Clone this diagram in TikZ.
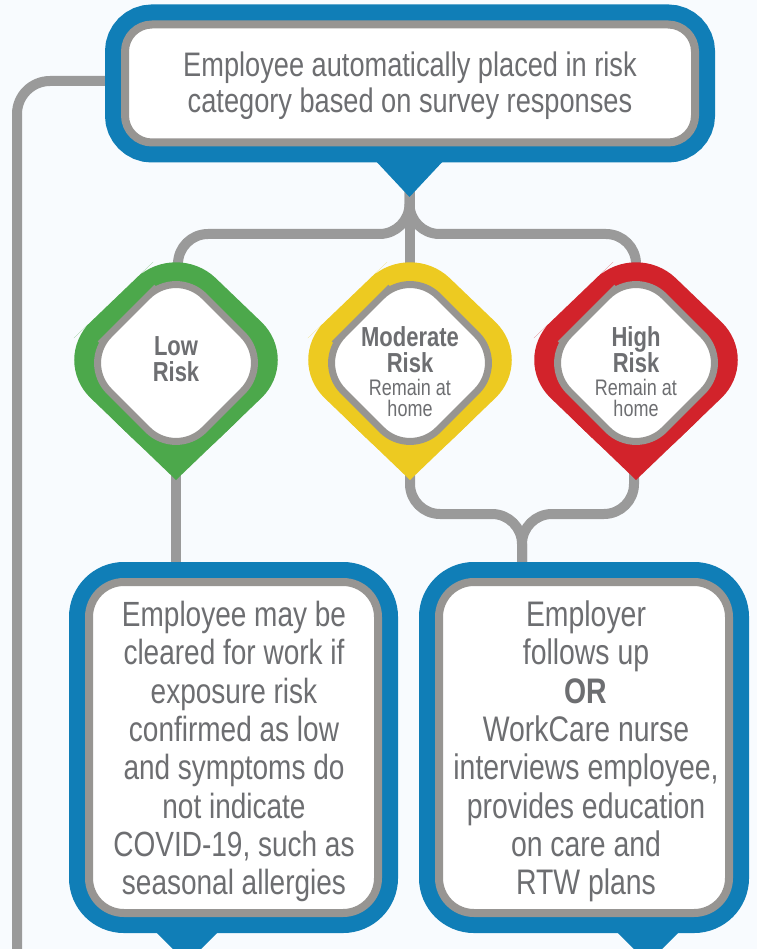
\documentclass[tikz,border=0pt]{standalone}
\usepackage{fontspec}
\setmainfont{Liberation Sans}[FakeStretch=0.8]
\definecolor{tblue}{HTML}{107EB7}
\definecolor{bgray}{HTML}{979592}
\definecolor{lgray}{HTML}{9A9A9A}
\definecolor{tgray}{HTML}{6D6E71}
\definecolor{rgreen}{HTML}{4CA84B}
\definecolor{ryellow}{HTML}{EDCA21}
\definecolor{rred}{HTML}{D2232B}
\definecolor{bgc}{HTML}{F8FBFE}
\pgfdeclarelayer{bg}
\pgfdeclarelayer{lines}
\pgfsetlayers{bg,lines,main}
\newcommand{\riskshape}[2]{%
  \fill[#2, rounded corners=55pt] (#1-62.5,300) -- (#1,240) -- (#1+125,360) -- (#1,480) -- (#1-125,360) -- cycle;
  \fill[#2] (#1-62.5,420) -- (#1,480) -- (#1+62.5,420) -- (#1,360) -- cycle;
  \filldraw[fill=white, draw=bgray, line width=7pt, rounded corners=40pt] (#1-47.5,315.5) -- (#1,268) -- (#1+95,363) -- (#1,458) -- (#1-95,363) -- cycle;
}
\begin{document}
\begin{tikzpicture}[x=1pt,y=-1pt,
  conn/.style={draw=lgray, line width=10pt, rounded corners=30pt},
  box/.style={draw=bgray, line width=8pt, fill=white, rounded corners=#1,
    preaction={draw=tblue, line width=40pt}, inner sep=0pt},
  btext/.style={text=tgray, align=center, inner sep=0pt},
  dtitle/.style={font=\bfseries\fontsize{27.5}{26}\selectfont, text=tgray, align=center, inner sep=0pt},
  dsub/.style={font=\fontsize{22.5}{21}\selectfont, text=tgray, align=center, inner sep=0pt},
]
\begin{pgfonlayer}{bg}
\fill[bgc] (0,0) rectangle (757,949);
\end{pgfonlayer}
\useasboundingbox (0,0) rectangle (757,949);

% pointers
\fill[tblue] (373,158) -- (446,158) -- (409.5,197) -- cycle;
\fill[tblue] (152,928) -- (222,928) -- (187,963) -- cycle;
\fill[tblue] (613,928) -- (683,928) -- (648,963) -- cycle;

% boxes
\node[box=27pt, minimum width=570pt, minimum height=118pt] (top) at (410,83.5) {};
\node[box=35pt, minimum width=289pt, minimum height=331pt] (lbox) at (233.5,747.5) {};
\node[box=35pt, minimum width=290pt, minimum height=331pt] (rbox) at (584,747.5) {};

\node[btext, font=\fontsize{34}{36}\selectfont] (top-t) at (410,85.5)
  {Employee automatically placed in risk\\category based on survey responses};
\node[btext, font=\fontsize{35}{38.3}\selectfont] (lbox-t) at (234,751.5)
  {Employee may be\\cleared for work if\\exposure risk\\confirmed as low\\and symptoms do\\not indicate\\COVID-19, such as\\seasonal allergies};
\node[btext, font=\fontsize{35.5}{38.3}\selectfont] (rbox-t) at (586,751.5)
  {Employer\\follows up\\\textbf{OR}\\WorkCare nurse\\interviews employee,\\provides education\\on care and\\RTW plans};

% diamonds
\riskshape{176}{rgreen}
\riskshape{410}{ryellow}
\riskshape{636}{rred}
\node[dtitle] (low-t) at (176,359.5) {Low\\Risk};
\node[dtitle] (mod-t) at (410,350) {Moderate\\Risk};
\node[dsub] (mod-s) at (410,397.5) {Remain at\\home};
\node[dtitle] (high-t) at (636,350) {High\\Risk};
\node[dsub] (high-s) at (636,397.5) {Remain at\\home};

% connection points
\coordinate (toptip) at (409.5,188);
\coordinate (split) at (409.5,234);
\coordinate (low-top) at (178,275);
\coordinate (mod-top) at (409.5,275);
\coordinate (high-top) at (636,275);
\coordinate (low-tip) at (176,470);
\coordinate (mod-tip) at (410,470);
\coordinate (high-tip) at (634,470);
\coordinate (merge) at (522,514);
\coordinate (loopend) at (17,965);

\begin{pgfonlayer}{lines}
\draw[conn, rounded corners=33pt] ([yshift=2.5pt]top.west) -| (loopend);
\draw[conn] (toptip) -- (mod-top);
\draw[conn] (toptip) -- (split) -| (low-top);
\draw[conn] (toptip) -- (split) -| (high-top);
\draw[conn] (low-tip) -- (low-tip |- lbox.north);
\draw[conn] (mod-tip) |- (merge) -- (merge |- rbox.north);
\draw[conn] (high-tip) |- (merge) -- (merge |- rbox.north);
\end{pgfonlayer}
\end{tikzpicture}
\end{document}
